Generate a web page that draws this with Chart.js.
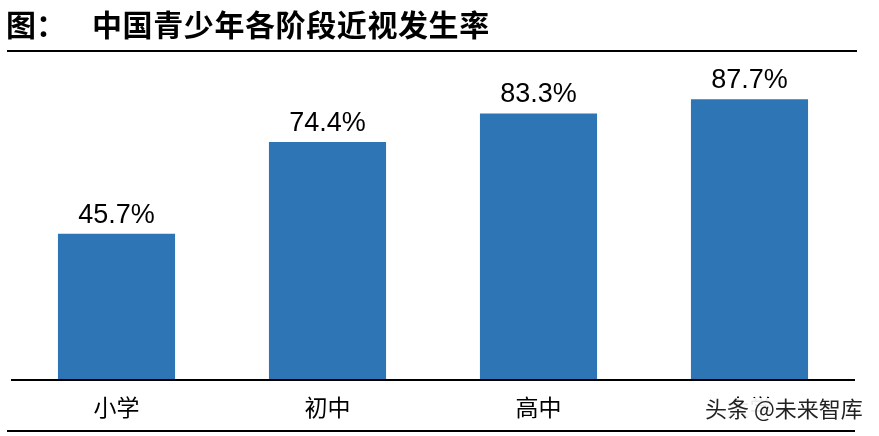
<!DOCTYPE html>
<html>
<head>
<meta charset="utf-8">
<script src="https://cdn.jsdelivr.net/npm/chart.js@4"></script>
<style>
  html, body { margin: 0; padding: 0; background: #fff; }
  #wrap { width: 879px; height: 436px; position: relative; }
</style>
</head>
<body>
<div id="wrap"><canvas id="c"></canvas></div>
<script>
// 数据
const stages = ['小学', '初中', '高中', '大学'];
const myopiaRates = [45.7, 74.4, 83.3, 87.7];
const titleLead = '图：';
const titleText = '中国青少年各阶段近视发生率';
const watermark = '头条 @未来智库';

const cjk = '"Noto Sans CJK SC", "Noto Sans", sans-serif';

// draws title, rules, value labels and the watermark
const decorPlugin = {
    id: 'decor',
    afterDraw(chart) {
        const ctx = chart.ctx;
        ctx.save();

        // title
        ctx.fillStyle = '#000';
        ctx.font = 'bold 30px ' + cjk;
        ctx.textBaseline = 'middle';
        ctx.textAlign = 'left';
        ctx.fillText(titleLead, 6, 25);
        ctx.letterSpacing = '0.6px';
        ctx.fillText(titleText, 92, 25);
        ctx.letterSpacing = '0px';

        // rules
        ctx.strokeStyle = '#000';
        ctx.lineWidth = 2;
        ctx.beginPath();
        ctx.moveTo(7, 51); ctx.lineTo(857, 51);
        ctx.moveTo(11, 380); ctx.lineTo(855, 380);
        ctx.moveTo(7, 431); ctx.lineTo(855, 431);
        ctx.stroke();

        // value labels
        const meta = chart.getDatasetMeta(0);
        ctx.font = '27px Arial, "Liberation Sans", sans-serif';
        ctx.textAlign = 'center';
        ctx.textBaseline = 'alphabetic';
        meta.data.forEach((bar, i) => {
            ctx.fillText(myopiaRates[i].toFixed(1) + '%', bar.x, bar.y - 11);
        });

        // watermark
        ctx.fillStyle = 'rgba(255,255,255,0.92)';
        ctx.fillRect(700, 398, 172, 24);
        ctx.fillStyle = '#222';
        ctx.font = '22px ' + cjk;
        ctx.textAlign = 'left';
        ctx.textBaseline = 'middle';
        ctx.fillText(watermark, 705, 409);

        ctx.restore();
    }
};

new Chart(document.getElementById('c'), {
    type: 'bar',
    data: {
        labels: stages,
        datasets: [
            {
                data: myopiaRates,
                backgroundColor: '#2E75B6',
                categoryPercentage: 1,
                barPercentage: 0.555,
            },
        ],
    },
    options: {
        responsive: true,
        maintainAspectRatio: false,
        animation: false,
        layout: {
            padding: { top: 60, left: 11, right: 24, bottom: 0 },
        },
        plugins: {
            legend: { display: false },
            tooltip: { enabled: false },
        },
        scales: {
            x: {
                grid: { display: false },
                border: { display: false },
                ticks: {
                    color: '#000',
                    font: { family: cjk, size: 23 },
                    padding: 5,
                },
                afterFit(scale) {
                    scale.height = 56;
                },
            },
            y: {
                display: false,
                min: 0,
                max: 100,
            },
        },
    },
    plugins: [decorPlugin],
});
</script>
</body>
</html>
